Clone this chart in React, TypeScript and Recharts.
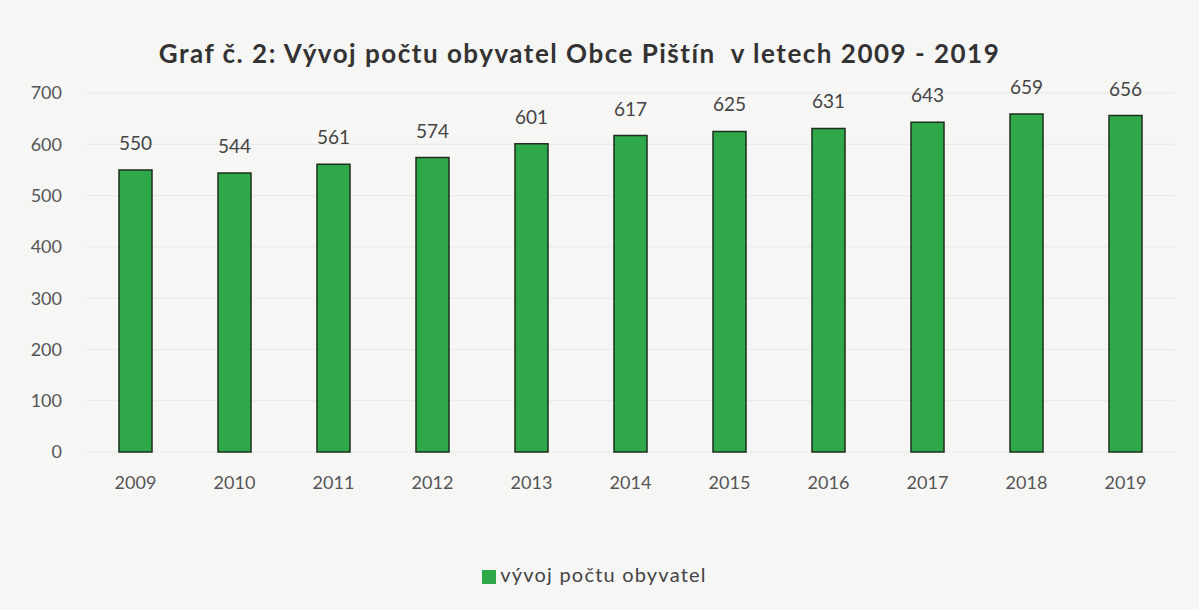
import React from 'react';
import { BarChart, Bar, XAxis, YAxis, CartesianGrid, Legend, LabelList } from 'recharts';

const years = ['2009', '2010', '2011', '2012', '2013', '2014', '2015', '2016', '2017', '2018', '2019'];
const population = [550, 544, 561, 574, 601, 617, 625, 631, 643, 659, 656];
const yTicks = [0, 100, 200, 300, 400, 500, 600, 700];
const seriesName = 'vývoj počtu obyvatel';
const title = 'Graf č. 2: Vývoj počtu obyvatel Obce Pištín  v letech 2009 - 2019';

const data = years.map((y, i) => ({ year: y, value: population[i] }));

const font = 'Lato, "Open Sans", sans-serif';

export default function App() {
  return (
    <div style={{ position: 'absolute', left: 0, top: 0, width: 1199, height: 610, background: '#f6f6f5', fontFamily: font }}>
      <div style={{ position: 'absolute', left: 0, width: 1199, top: 37, textAlign: 'center', fontSize: 26, fontWeight: 700, color: '#333', letterSpacing: 1.5, whiteSpace: 'pre' }}>
        <span style={{ position: 'relative', left: -20 }}>{title}</span>
      </div>
      <BarChart width={1199} height={610} data={data} margin={{ top: 93, right: 24, bottom: 24, left: 0 }} barCategoryGap={0} style={{ position: 'absolute', left: 0, top: 0 }}>
        <CartesianGrid vertical={false} stroke="#e8e8e8" />
        <XAxis dataKey="year" axisLine={false} tickLine={false} height={110} tickMargin={18} tick={{ fill: '#555', fontSize: 18, fontFamily: font }} />
        <YAxis domain={[0, 700]} ticks={yTicks} axisLine={false} tickLine={false} width={86} tickMargin={18} tick={{ fill: '#555', fontSize: 18, fontFamily: font }} />
        <Legend verticalAlign="bottom" iconType="square" iconSize={14} wrapperStyle={{ fontSize: 20, fontFamily: font, color: '#555', paddingLeft: 12, letterSpacing: 1.2 }} formatter={(v) => <span style={{ color: '#444' }}>{v}</span>} />
        <Bar dataKey="value" name={seriesName} fill="#2fa84a" stroke="#1e2e1e" strokeWidth={1.5} barSize={33} isAnimationActive={false}>
          <LabelList dataKey="value" position="top" offset={20} fill="#444" fontSize={19} fontFamily={font} />
        </Bar>
      </BarChart>
    </div>
  );
}
